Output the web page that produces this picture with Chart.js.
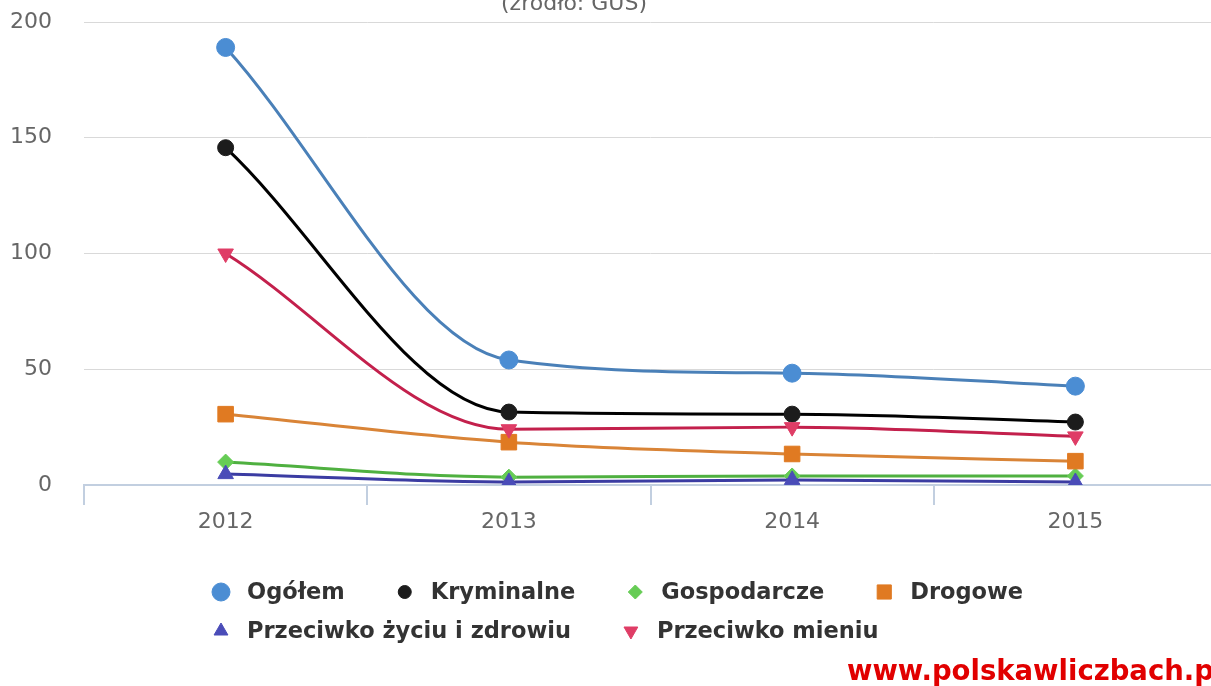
<!DOCTYPE html>
<html>
<head>
<meta charset="utf-8">
<script src="https://cdn.jsdelivr.net/npm/chart.js@4"></script>
<style>
  html, body { margin:0; padding:0; background:#fff; overflow:hidden; width:1211px; height:686px; }
  #wrap { position:absolute; left:0; top:0; width:1211px; height:686px; overflow:hidden; }
  #chart { display:block; }
  #mark { position:absolute; left:847px; top:654px; font:bold 27.5px 'DejaVu Sans', sans-serif; color:#e10000; white-space:nowrap; }
</style>
</head>
<body>
<div id="wrap"><canvas id="chart" width="1229" height="686"></canvas></div>
<div id="mark">www.polskawliczbach.pl</div>
<script>
(function(){

  const years = ['2012','2013','2014','2015'];
  const yTicks = [0, 50, 100, 150, 200];

  const ogolem      = [189, 54, 48.3, 42.7];
  const kryminalne  = [145.7, 31.5, 30.6, 27.2];
  const gospodarcze = [9.9, 3.4, 3.9, 3.9];
  const drogowe     = [30.6, 18.5, 13.4, 10.3];
  const zycie       = [4.7, 1.3, 2.2, 1.3];
  const mienie      = [100, 24.1, 25, 21];

  const series = [
    { label:'Ogółem', data:ogolem, line:'#4a80b8', fill:'#4b8dd3', style:'circle', rot:0, r:9, lr:9 },
    { label:'Kryminalne', data:kryminalne, line:'#000000', fill:'#1c1c1c', style:'circle', rot:0, r:8, lr:6.5 },
    { label:'Gospodarcze', data:gospodarcze, line:'#4fb040', fill:'#66cc55', style:'rectRot', rot:0, r:8, lr:7 },
    { label:'Drogowe', data:drogowe, line:'#d98437', fill:'#e07a22', style:'rect', rot:0, r:11, lr:10 },
    { label:'Przeciwko życiu i zdrowiu', data:zycie, line:'#3b3ca2', fill:'#4a4cb8', style:'triangle', rot:0, r:9, lr:8 },
    { label:'Przeciwko mieniu', data:mienie, line:'#c3204c', fill:'#df3d66', style:'triangle', rot:180, r:9, lr:8 }
  ];

  const font = "'DejaVu Sans', sans-serif";

  // cut-off subtitle at the top and a legend whose rows start at the same x, like the source
  const extras = {
    id:'extras',
    afterDraw(chart){
      const ctx = chart.ctx;
      ctx.save();
      ctx.fillStyle = '#666';
      ctx.font = '22px ' + font;
      ctx.textAlign = 'center';
      ctx.textBaseline = 'alphabetic';
      ctx.fillText('(źródło: GUS)', 574, 10);

      ctx.font = 'bold 22.5px ' + font;
      ctx.textAlign = 'left';
      ctx.textBaseline = 'middle';
      const rows = [[0,1,2,3],[4,5]];
      const rowY = [592, 631];
      const textOff = 26, gap = 60;
      rows.forEach((r, ri) => {
        let x = 221;
        r.forEach(i => {
          const s = series[i];
          ctx.fillStyle = s.fill;
          ctx.strokeStyle = s.fill;
          Chart.helpers.drawPoint(ctx, { pointStyle:s.style, rotation:s.rot, radius:s.lr, borderWidth:1 }, x, rowY[ri]);
          ctx.fillStyle = '#333';
          ctx.fillText(s.label, x + textOff, rowY[ri] + 1);
          x += textOff + ctx.measureText(s.label).width + gap;
        });
      });
      ctx.restore();
    }
  };

  new Chart(document.getElementById('chart'), {
    type:'line',
    data:{
      labels:years,
      datasets:series.map(s => ({
        label:s.label,
        data:s.data,
        borderColor:s.line,
        borderWidth:3,
        backgroundColor:s.fill,
        pointBackgroundColor:s.fill,
        pointBorderColor:s.fill,
        pointBorderWidth:1,
        pointStyle:s.style,
        rotation:s.rot,
        pointRadius:s.r,
        pointHoverRadius:s.r,
        cubicInterpolationMode:'monotone',
        fill:false
      })).reverse()
    },
    options:{
      responsive:false, animation:false,
      layout:{ padding:{ top:22, bottom:141, left:0, right:0 } },
      plugins:{ legend:{ display:false }, tooltip:{ enabled:false } },
      scales:{
        y:{
          min:0, max:200,
          afterBuildTicks:ax => { ax.ticks = yTicks.map(v => ({ value:v })); },
          afterFit:ax => { ax.width = 84; },
          grid:{ color:(c)=> c.tick && c.tick.value === 0 ? 'rgba(0,0,0,0)' : '#d9d9d9', lineWidth:1, drawTicks:true, tickLength:32, tickColor:'rgba(0,0,0,0)' },
          border:{ display:false },
          ticks:{ padding:0, color:'#666', font:{ family:font, size:22 } }
        },
        x:{
          offset:true,
          afterFit:ax => { ax.height = 60; },
          grid:{ display:true, offset:true, drawOnChartArea:false, drawTicks:true, tickLength:20, color:'#c2cfe0', lineWidth:2 },
          border:{ display:true, color:'#c2cfe0', width:2 },
          ticks:{ padding:4, color:'#666', font:{ family:font, size:22 } }
        }
      }
    },
    plugins:[extras]
  });

})();
</script>
</body>
</html>
